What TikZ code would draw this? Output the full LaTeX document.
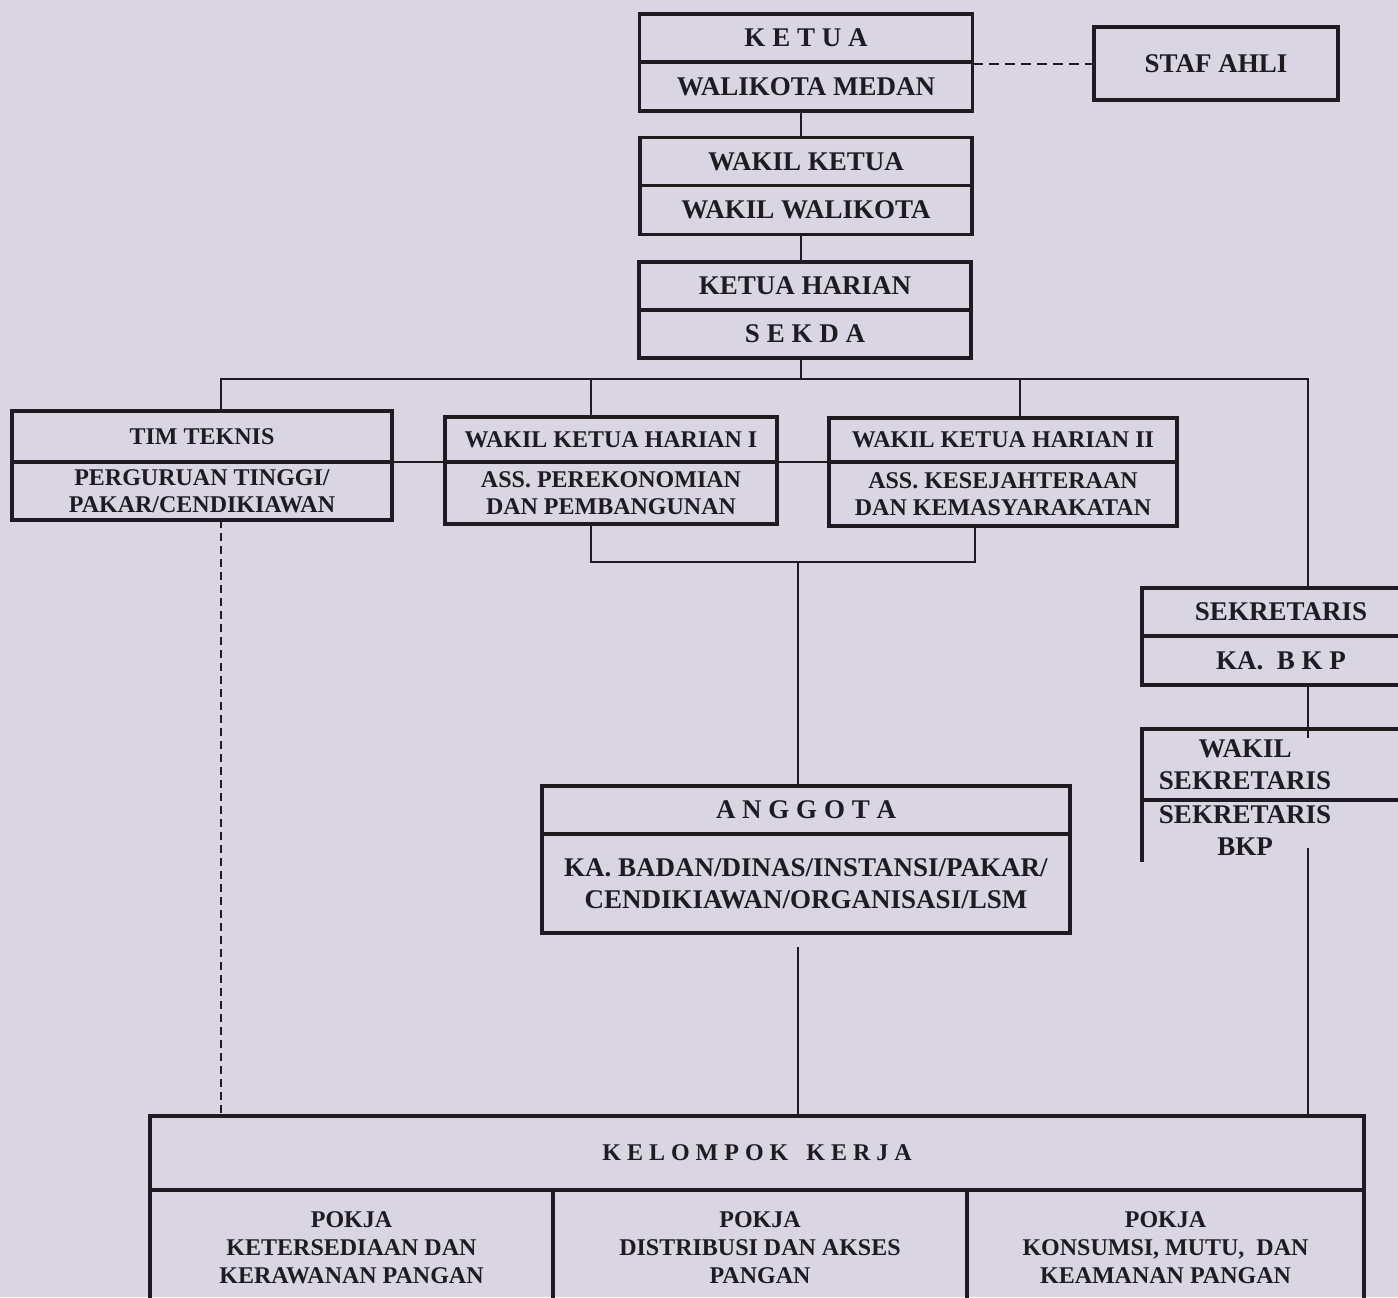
\documentclass[tikz,border=0pt]{standalone}
\usepackage{fontspec}
\setmainfont{Liberation Serif}
\usetikzlibrary{positioning}
\definecolor{paper}{RGB}{217,213,226}
\definecolor{ink}{RGB}{30,28,34}

\begin{document}
\begin{tikzpicture}[x=0.5pt, y=-0.5pt,
  box/.style={draw=ink, line width=1.6pt, inner sep=0pt, outer sep=0pt, align=center, text=ink},
  big/.style={font=\fontsize{13.5}{16}\selectfont\bfseries},
  mid/.style={font=\fontsize{12}{13.5}\selectfont\bfseries},
  pok/.style={font=\fontsize{12}{14}\selectfont\bfseries},
  link/.style={draw=ink, line width=1pt}]

  \fill[paper] (0,0) rectangle (1398,1297);
  \useasboundingbox (0,0) rectangle (1398,1297);
  \clip (0,0) rectangle (1398,1297);

  % top of the chart
  \node[box, big, minimum width=166.5pt, minimum height=24pt] (ketua) at (806,38) {K E T U A};
  \node[box, big, minimum width=166.5pt, minimum height=24.5pt, below=0pt of ketua] (walikota) {WALIKOTA MEDAN};
  \node[box, big, minimum width=122pt, minimum height=36.5pt] (staf) at (1216,63.5) {STAF AHLI};
  \node[box, big, minimum width=166pt, minimum height=24.25pt] (wakil) at (806,161.5) {WAKIL KETUA};
  \node[box, big, minimum width=166pt, minimum height=24.25pt, below=0pt of wakil] (wawali) {WAKIL WALIKOTA};
  \node[box, big, minimum width=166pt, minimum height=24pt] (harian) at (805,286) {KETUA HARIAN};
  \node[box, big, minimum width=166pt, minimum height=24pt, below=0pt of harian] (sekda) {S E K D A};

  % second row
  \node[box, mid, minimum width=190pt, minimum height=25.5pt] (tim) at (202,436.5) {TIM TEKNIS};
  \node[box, mid, minimum width=190pt, minimum height=29pt, below=0pt of tim] (pakar) {PERGURUAN TINGGI/\\PAKAR/CENDIKIAWAN};
  \node[box, mid, minimum width=166pt, minimum height=22.5pt] (wkh1) at (611,439.5) {WAKIL KETUA HARIAN I};
  \node[box, mid, minimum width=166pt, minimum height=31pt, below=0pt of wkh1] (ekon) {ASS. PEREKONOMIAN\\DAN PEMBANGUNAN};
  \node[box, mid, minimum width=174pt, minimum height=22pt] (wkh2) at (1003,440) {WAKIL KETUA HARIAN II};
  \node[box, mid, minimum width=174pt, minimum height=32pt, below=0pt of wkh2] (kesra) {ASS. KESEJAHTERAAN\\DAN KEMASYARAKATAN};

  \node[box, big, minimum width=139pt, minimum height=24pt] (sekre) at (1281,612) {SEKRETARIS};
  \node[box, big, minimum width=139pt, minimum height=24.5pt, below=0pt of sekre] (kabkp) {KA.~~B K P};
  \node[box, big, draw=none, minimum width=103pt, minimum height=35.5pt] (wasek) at (1245,764.5) {WAKIL\\SEKRETARIS};
  \node[box, big, draw=none, minimum width=103pt, minimum height=31pt, below=0pt of wasek] (sekbkp) {SEKRETARIS\\BKP};

  \node[box, big, minimum width=264pt, minimum height=24pt] (anggota) at (806,810) {A N G G O T A};
  \node[box, big, minimum width=264pt, minimum height=49.5pt, below=0pt of anggota] (badan) {KA. BADAN/DINAS/INSTANSI/PAKAR/\\CENDIKIAWAN/ORGANISASI/LSM};

  % kelompok kerja
  \node[box, pok, minimum width=607pt, minimum height=37pt] (kerja) at (757,1153) {K E L O M P O K\ \ \ K E R J A};
  \node[box, pok, minimum width=201.5pt, minimum height=57.5pt, anchor=north west] (pk1) at (kerja.south west) {POKJA\\KETERSEDIAAN DAN\\KERAWANAN PANGAN};
  \node[box, pok, minimum width=207pt, minimum height=57.5pt, anchor=north west] (pk2) at (pk1.north east) {POKJA\\DISTRIBUSI DAN AKSES\\PANGAN};
  \node[box, pok, minimum width=198.5pt, minimum height=57.5pt, anchor=north west] (pk3) at (pk2.north east) {POKJA\\KONSUMSI, MUTU,\ \ DAN\\KEAMANAN PANGAN};

  \coordinate (spine) at (801,0);
  \coordinate (busL) at (221,379);
  \coordinate (busR) at (1308,379);
  \coordinate (tap1) at (591,379);
  \coordinate (tap2) at (1020,379);
  \coordinate (joinL) at (591,562);
  \coordinate (joinR) at (975,562);
  \coordinate (stem) at (798,562);
  \coordinate (rim) at (1420,0);

  \draw[link, dash pattern=on 5pt off 3pt] (staf.west -| ketua.east) -- (staf.west);
  \draw[link] (spine |- walikota.south) -- (spine |- wakil.north);
  \draw[link] (spine |- wawali.south) -- (spine |- harian.north);
  \draw[link] (spine |- sekda.south) -- (spine |- busL);
  \draw[link] (busL |- tim.north) -- (busL) -- (busR) -- (busR |- sekre.north);
  \draw[link] (tap1) -- (tap1 |- wkh1.north);
  \draw[link] (tap2) -- (tap2 |- wkh2.north);
  \draw[link] (pakar.north east) -- (ekon.north west);
  \draw[link] (ekon.north east) -- (kesra.north west);
  \draw[link] (joinL |- ekon.south) -- (joinL) -- (joinR) -- (joinR |- kesra.south);
  \draw[link] (stem) -- (stem |- anggota.north);
  \draw[link] ([yshift=-7pt]stem |- badan.south) -- (stem |- kerja.north);
  \draw[link, dash pattern=on 4pt off 2.5pt] (busL |- pakar.south) -- (busL |- kerja.north);
  \draw[link] (busR |- kabkp.south) -- ([yshift=-4.5pt]busR |- wasek.north);
  \draw[link] ([yshift=7pt]busR |- sekbkp.south) -- (busR |- kerja.north);

  % open frame of the wakil sekretaris box
  \draw[ink, line width=1.6pt] (wasek.north west -| rim) -- (wasek.north west) -- (sekbkp.south west);
  \draw[ink, line width=1.6pt] (wasek.south west) -- (wasek.south west -| rim);
\end{tikzpicture}
\end{document}
